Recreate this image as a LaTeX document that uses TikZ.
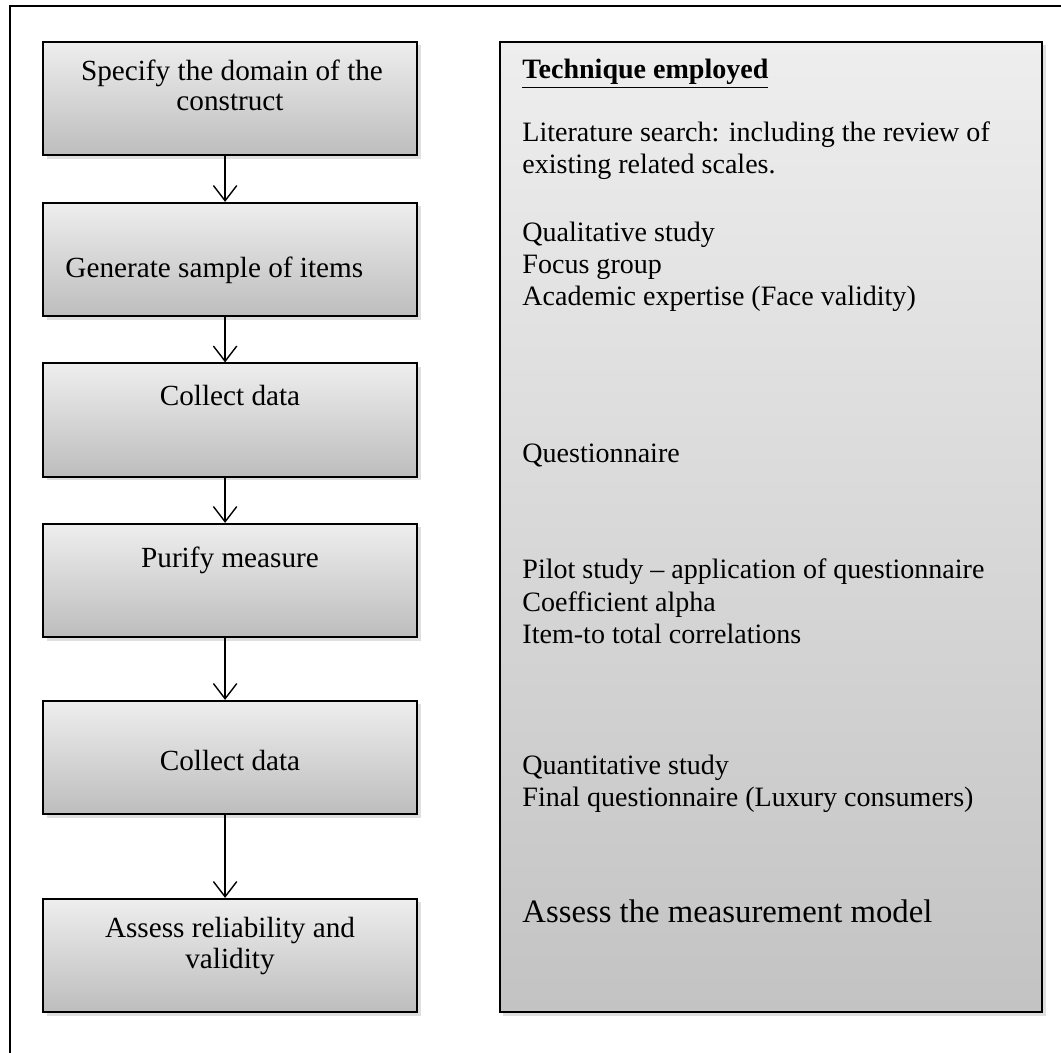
\documentclass[tikz,border=0pt]{standalone}
\usepackage{fontspec}
\setmainfont{Liberation Serif}
\usetikzlibrary{positioning,arrows.meta,shadows}
\definecolor{grisclaro}{RGB}{238,238,238}
\definecolor{grisoscuro}{RGB}{189,189,189}
\definecolor{grisfondo}{RGB}{195,195,195}

\begin{document}
\begin{tikzpicture}[
  x=0.4278pt, y=-0.4278pt,
  paso/.style={draw=black, line width=0.8pt, top color=grisclaro,
    bottom color=grisoscuro, minimum width=160pt, minimum height=48.5pt,
    inner sep=0pt, drop shadow={shadow xshift=1.5pt, shadow yshift=-1.5pt,
    opacity=0.25}},
  panel/.style={paso, top color=grisclaro, bottom color=grisfondo,
    minimum width=231.9pt, minimum height=415pt},
  texto/.style={font=\fontsize{12.5}{14}\selectfont, inner sep=0pt, anchor=base},
  linea/.style={font=\fontsize{12}{14}\selectfont, inner sep=0pt, anchor=base west},
  flecha/.style={-{Straight Barb[length=6.5pt, width=10pt]}, line width=0.6pt}
]
\useasboundingbox (0,0) rectangle (1061,1053);
% Marco
\draw[line width=1.2pt] (10,1053) -- (10,6) -- (1061,6);
% Pasos
\node[paso] (caja1) at (230,98.5) {};
\node[paso] (caja2) at (230,259.5) {};
\node[paso] (caja3) at (230,420) {};
\node[paso] (caja4) at (230,580.5) {};
\node[paso] (caja5) at (230,757.5) {};
\node[paso] (caja6) at (230,955.5) {};
\node[texto] (t1a) at (232,80) {Specify the domain of the};
\node[texto] (t1b) at (230,110) {construct};
\node[texto, anchor=base west] (t2) at (65,277) {Generate sample of items};
\node[texto] (t3) at (230,405) {Collect data};
\node[texto] (t4) at (230,567) {Purify measure};
\node[texto] (t5) at (230,770) {Collect data};
\node[texto] (t6a) at (230,937) {Assess reliability and};
\node[texto] (t6b) at (230,968) {validity};
% Tecnicas
\node[panel] (tecnica) at (771,527) {};
\node[linea] (titulo) at (522,78) {\underline{\textbf{Technique employed}}};
\foreach \y/\txt [count=\i] in {
  141/{Literature search: including the review of},
  173/{existing related scales.},
  241/{Qualitative study},
  273/{Focus group},
  305/{Academic expertise (Face validity)},
  462/{Questionnaire},
  578/{Pilot study -- application of questionnaire},
  611/{Coefficient alpha},
  643/{Item-to total correlations},
  774/{Quantitative study},
  806/{Final questionnaire (Luxury consumers)}}
  \node[linea] (l\i) at (522,\y) {\txt};
\node[linea, font=\fontsize{14}{16}\selectfont] (modelo) at (522,922)
  {Assess the measurement model};
% Flechas
\foreach \a/\b in {caja1/caja2, caja2/caja3, caja3/caja4, caja4/caja5, caja5/caja6}
  \draw[flecha] ([xshift=-2.1pt]\a.south) -- ([xshift=-2.1pt]\b.north);
\end{tikzpicture}
\end{document}
